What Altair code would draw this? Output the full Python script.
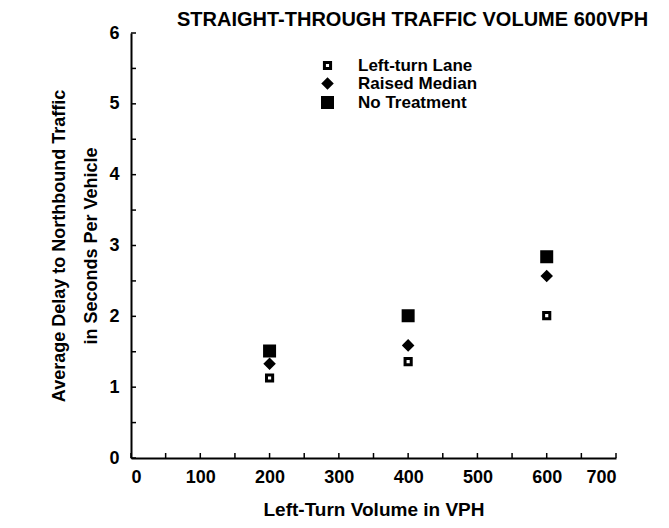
import altair as alt
import pandas as pd

# ---- data ----
volumes = [200, 400, 600]
left_turn_lane = [1.13, 1.36, 2.01]
raised_median = [1.33, 1.59, 2.57]
no_treatment = [1.51, 2.01, 2.84]
series_names = ["Left-turn Lane", "Raised Median", "No Treatment"]
x_labels = [0, 100, 200, 300, 400, 500, 600, 700]
y_labels = [0, 1, 2, 3, 4, 5, 6]
x_minor = [0, 50, 100, 150, 200, 250, 300, 350, 400, 450, 500, 550, 600, 650, 700]
y_minor = [0, 0.5, 1, 1.5, 2, 2.5, 3, 3.5, 4, 4.5, 5, 5.5, 6]

FONT = "Liberation Sans, Arial, sans-serif"
W, H = 485, 425

rows = []
for name, vals in zip(series_names, [left_turn_lane, raised_median, no_treatment]):
    for v, d in zip(volumes, vals):
        rows.append({"volume": v, "delay": d, "series": name})
df = pd.DataFrame(rows)

xscale = alt.Scale(domain=[0, 700], nice=False, zero=False)
yscale = alt.Scale(domain=[0, 6], nice=False, zero=False)

points = alt.Chart(df).mark_point(opacity=1, strokeWidth=3, stroke="black").encode(
    x=alt.X("volume:Q", scale=xscale,
            axis=alt.Axis(values=x_labels, format="d", title="Left-Turn Volume in VPH", ticks=False,
                          grid=False, labelPadding=10, titlePadding=14, titleFontSize=19)),
    y=alt.Y("delay:Q", scale=yscale,
            axis=alt.Axis(values=y_labels, format="d",
                          title=["Average Delay to Northbound Traffic", "in Seconds Per Vehicle"],
                          ticks=False, grid=False, labelPadding=12, titlePadding=8, titleLineHeight=32)),
    shape=alt.Shape("series:N", scale=alt.Scale(domain=series_names, range=["square", "diamond", "square"]),
                    legend=alt.Legend(title=None, orient="none", legendX=188, legendY=24,
                                      labelFont=FONT, labelFontSize=17, labelFontWeight="bold",
                                      labelColor="black", symbolStrokeColor="black", symbolStrokeWidth=3,
                                      rowPadding=-3, labelOffset=22)),
    fill=alt.Fill("series:N", scale=alt.Scale(domain=series_names, range=["white", "black", "black"])),
    size=alt.Size("series:N", scale=alt.Scale(domain=series_names, range=[38, 100, 70])),
)

xt = alt.Chart(pd.DataFrame({"t": x_minor})).mark_rule(color="black", strokeWidth=1.5).encode(
    x=alt.X("t:Q", scale=xscale), y=alt.value(H), y2=alt.value(H - 5))
yt = alt.Chart(pd.DataFrame({"t": y_minor})).mark_rule(color="black", strokeWidth=1.5).encode(
    y=alt.Y("t:Q", scale=yscale), x=alt.value(0), x2=alt.value(5))

chart = alt.layer(xt, yt, points).properties(
    width=W, height=H,
    title=alt.TitleParams("STRAIGHT-THROUGH TRAFFIC VOLUME 600VPH", anchor="start", dx=126, dy=6,
                          font=FONT, fontSize=20, fontWeight="bold", color="black", offset=0),
    autosize=alt.AutoSizeParams(type="none"),
    padding={"left": 131, "top": 33, "right": 53, "bottom": 70},
).configure_view(stroke=None).configure_axis(
    domainColor="black", domainWidth=2, labelFont=FONT, labelFontSize=18, labelFontWeight="bold",
    labelColor="black", titleFont=FONT, titleFontSize=18, titleFontWeight="bold", titleColor="black",
)

chart.save("out.html", embed_options={"renderer": "svg", "actions": False})
